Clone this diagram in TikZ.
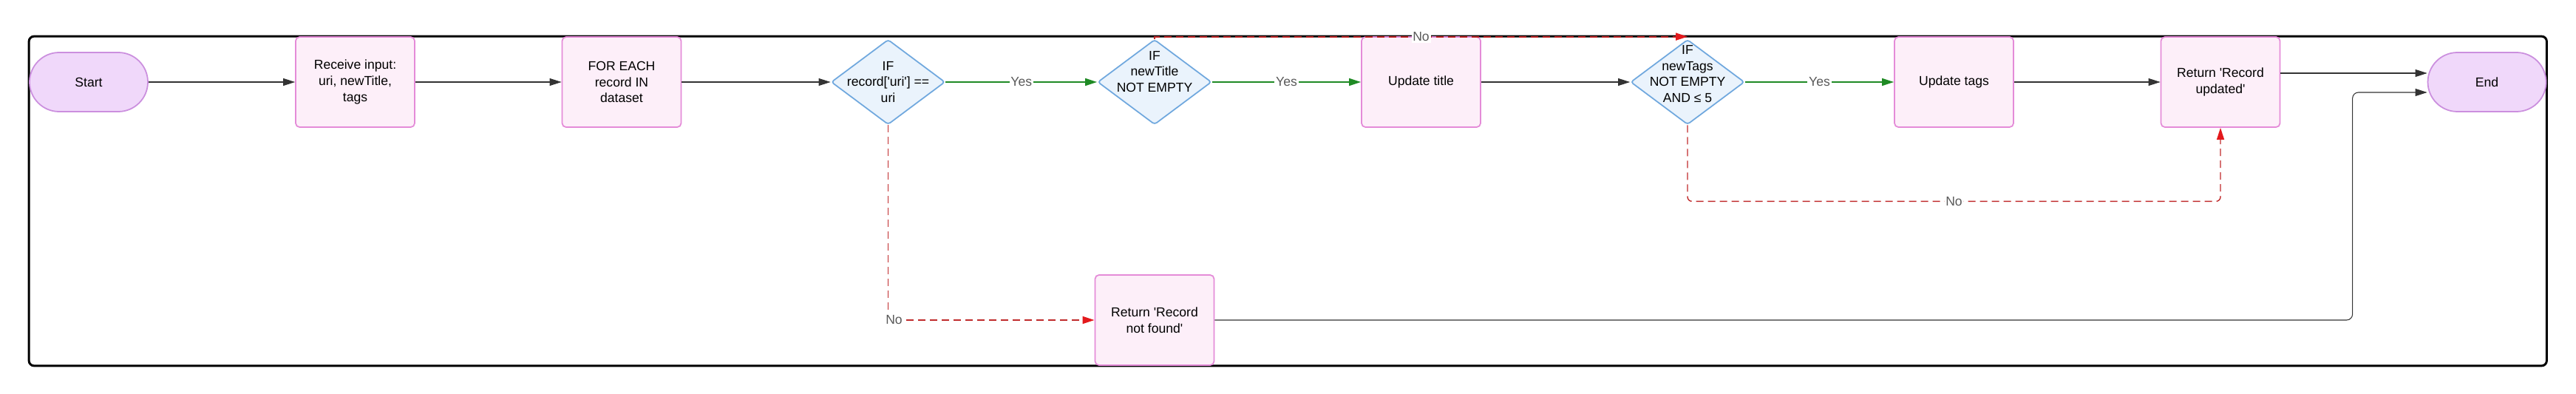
\documentclass[tikz,border=0pt]{standalone}
\usepackage{fontspec}
\setmainfont{Liberation Sans}
\usetikzlibrary{arrows.meta,positioning,fit,backgrounds,shapes.geometric}

\definecolor{boxfill}{HTML}{FDEFF9}
\definecolor{boxline}{HTML}{E48BD8}
\definecolor{termfill}{HTML}{F0D8FA}
\definecolor{termline}{HTML}{CB8FDE}
\definecolor{decfill}{HTML}{EAF3FC}
\definecolor{decline}{HTML}{70A8DE}
\definecolor{yesgreen}{HTML}{1F8A24}
\definecolor{nored}{HTML}{C02A2B}
\definecolor{tipred}{HTML}{E3191C}
\definecolor{linkgray}{HTML}{333333}
\definecolor{lblgray}{HTML}{5A5A5A}

\newcommand{\apos}{\textquotesingle}

\begin{document}
\begin{tikzpicture}[
  font=\fontsize{10}{12.3}\selectfont,
  node distance=7.21cm, on grid,
  box/.style={draw=boxline, fill=boxfill, line width=1pt, rounded corners=3pt, align=center, minimum width=3.22cm, minimum height=2.44cm},
  term/.style={draw=termline, fill=termfill, line width=1pt, rounded corners=0.8cm, minimum width=3.2cm, minimum height=1.6cm},
  decision/.style={diamond, draw=decline, fill=decfill, line width=1pt, rounded corners=2pt, minimum width=3.08cm, minimum height=2.3cm, inner sep=0pt},
  dtext/.style={align=center, inner sep=0pt},
  lbl/.style={fill=white, text=lblgray, inner sep=1pt},
  lane/.style={draw=black, line width=1.7pt, rounded corners=4pt, inner sep=0pt},
  arrow/.style={-{Triangle[length=0.32cm, width=0.2cm]}, draw=linkgray, line width=0.6pt},
  yeslink/.style={-{Triangle[length=0.32cm, width=0.2cm]}, draw=yesgreen, line width=0.9pt},
  nolink/.style={-{Triangle[length=0.32cm, width=0.2cm, color=tipred]}, draw=nored, line width=1.1pt, dash pattern=on 0.2cm off 0.12cm}
]
\useasboundingbox (0,0) rectangle (69.70,-10.66);

% main row
\node[term] (start) at (2.40,-2.22) {Start};
\node[box, right=of start] (recv) {Receive input:\\uri, newTitle,\\tags};
\node[box, right=of recv] (loop) {FOR EACH\\record IN\\dataset};
\node[decision, right=of loop, label={[dtext]center:{IF\\record[\apos uri\apos] ==\\uri}}] (ifuri) {};
\node[decision, right=of ifuri, label={[dtext, yshift=0.28cm]center:{IF\\newTitle\\NOT EMPTY}}] (iftitle) {};
\node[box, right=of iftitle] (updtitle) {Update title};
\node[decision, right=of updtitle, label={[dtext, yshift=0.22cm]center:{IF\\newTags\\NOT EMPTY\\AND ≤ 5}}] (iftags) {};
\node[box, right=of iftags] (updtags) {Update tags};
\node[box, right=of updtags] (retupd) {Return \apos Record\\updated\apos};
\node[term, right=of retupd] (end) {End};

% error branch
\node[box, below=6.44cm of iftitle] (notfound) {Return \apos Record\\not found\apos};

\begin{scope}[on background layer]
\node[lane, fit=(start)(recv)(end)(notfound)] (flow) {};
\end{scope}

\draw[arrow] (start) -- (recv);
\draw[arrow] (recv) -- (loop);
\draw[arrow] (loop) -- (ifuri);
\draw[yeslink] (ifuri) -- node[lbl] {Yes} (iftitle);
\draw[yeslink] (iftitle) -- node[lbl] {Yes} (updtitle);
\draw[arrow] (updtitle) -- (iftags);
\draw[yeslink] (iftags) -- node[lbl] {Yes} (updtags);
\draw[arrow] (updtags) -- (retupd);
\draw[arrow] ([yshift=0.24cm]retupd.east) -- ([yshift=0.24cm]end.west);
\draw[arrow, rounded corners=0.16cm] (notfound.east) -| ([xshift=-2.02cm, yshift=-0.28cm]end.west) -- ([yshift=-0.28cm]end.west);

% no branches
\draw[nolink] (ifuri.south) |- node[lbl, pos=0.5, xshift=0.16cm] {No} (notfound.west);
\draw[nolink] (iftitle.north) |- node[lbl, pos=0.75] {No} ([yshift=0.06cm]iftags.north);
\draw[nolink, line width=0.8pt, rounded corners=0.12cm] (iftags.south) -- ++(0,-2.06) -| node[lbl, pos=0.25] {No} (retupd.south);

\end{tikzpicture}
\end{document}
